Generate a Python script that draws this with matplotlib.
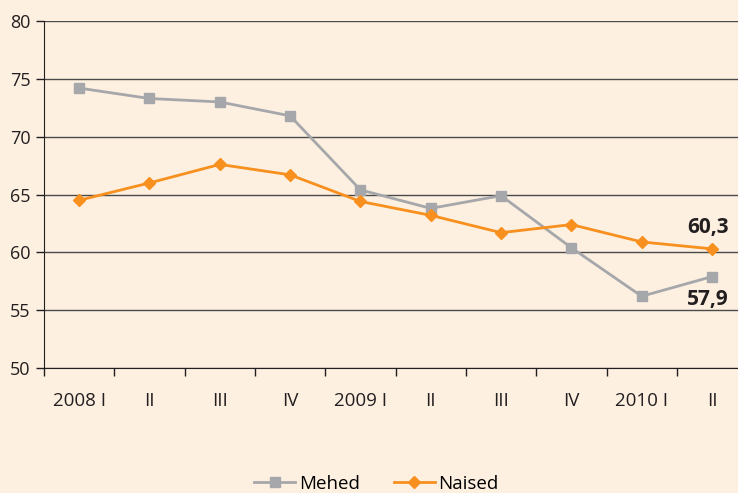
import matplotlib.pyplot as plt
import numpy as np

categories = ["2008 I", "II", "III", "IV", "2009 I", "II", "III", "IV", "2010 I", "II"]
mehed = [74.2, 73.3, 73.0, 71.8, 65.4, 63.8, 64.9, 60.4, 56.2, 57.9]
naised = [64.5, 66.0, 67.6, 66.7, 64.4, 63.2, 61.7, 62.4, 60.9, 60.3]

bg = "#fdf0e1"
gray = "#a6a7ab"
orange = "#f7901e"

plt.rcParams["font.family"] = ["Open Sans", "DejaVu Sans"]

fig = plt.figure(figsize=(7.38, 4.93), dpi=100, facecolor=bg)
ax = fig.add_axes([44 / 738, 1 - 368 / 493, 694 / 738, 347 / 493])
ax.set_facecolor(bg)

x = np.arange(len(categories))
ax.plot(x, mehed, color=gray, lw=2, marker="s", ms=7, label="Mehed", zorder=3)
ax.plot(x, naised, color=orange, lw=2, marker="D", ms=6, label="Naised", zorder=3)

ax.set_yticks(range(50, 81, 5))
ax.yaxis.grid(True, color="#4a4a4a", lw=1)
ax.set_axisbelow(True)

ax.set_xticks(x)
ax.set_xticklabels(categories)
ax.set_xticks(np.arange(-0.5, 9.4, 1), minor=True)
ax.set_ylim(50, 80)
ax.set_xlim(-0.5, 9.37)
ax.tick_params(axis="x", which="major", length=0, pad=17, labelsize=13.5, colors="#231f20")
ax.tick_params(axis="x", which="minor", length=6, width=1, color="#231f20")
ax.tick_params(axis="y", length=6, width=1, labelsize=13, colors="#231f20")

for s in ["top", "right"]:
    ax.spines[s].set_visible(False)
ax.spines["left"].set_color("#231f20")
ax.spines["bottom"].set_color("#231f20")

ax.annotate("60,3", (x[-1], naised[-1]), xytext=(-3, 8), textcoords="offset points",
            ha="center", va="bottom", fontsize=15, fontweight="bold", color="#231f20")
ax.annotate("57,9", (x[-1], mehed[-1]), xytext=(-3, -9), textcoords="offset points",
            ha="center", va="top", fontsize=15, fontweight="bold", color="#231f20")

fig.legend(loc="lower center", bbox_to_anchor=(0.51, -0.034), ncol=2, frameon=False,
           fontsize=13.5, handlelength=2.2, columnspacing=1.8, handletextpad=0.2)

plt.savefig("out.png", dpi=100, facecolor=fig.get_facecolor())
